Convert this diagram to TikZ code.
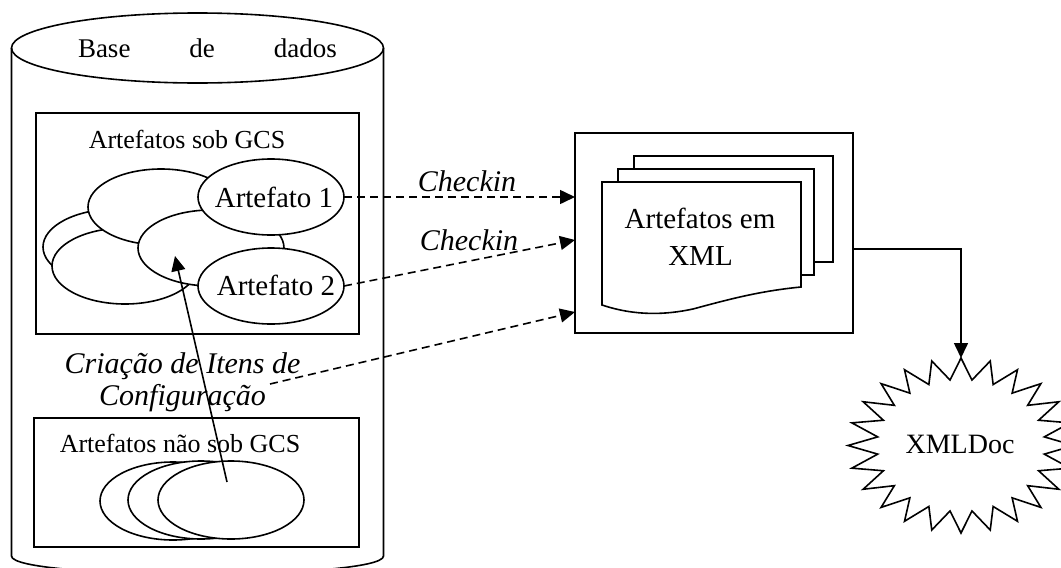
\documentclass[tikz,border=0pt]{standalone}
\usepackage{fontspec}
\setmainfont{Liberation Serif}
\usetikzlibrary{shapes.geometric,arrows.meta,calc}
\begin{document}
\begin{tikzpicture}[x=1pt,y=-1pt,line width=1.6pt,
  every node/.style={inner sep=0pt,outer sep=0pt},
  oval/.style={ellipse,draw,fill=white,minimum width=146pt,minimum height=76pt},
  frame/.style={draw,rectangle,fill=white},
  page/.style={draw,fill=white},
  tip/.style={-{Triangle[length=15pt,width=14pt]}},
  dasharrow/.style={tip,dash pattern=on 8pt off 5pt},
  txt/.style={font=\fontsize{26}{30}\selectfont},
  bigtxt/.style={font=\fontsize{29}{34}\selectfont},
  ittxt/.style={font=\fontsize{30}{34}\selectfont\itshape}]
\useasboundingbox (0,0) rectangle (1061,568);
\clip (0,0) rectangle (1061,568);
\fill[white] (0,0) rectangle (1061,568);

% cylinder
\draw (11.5,48) -- (11.5,556) .. controls (11.5,580) and (383.5,580) .. (383.5,556) -- (383.5,48);
\draw (197.5,48) ellipse [x radius=186, y radius=35];
\node[font=\fontsize{27}{32}\selectfont] (base) at (207.5,48) {\makebox[259pt][s]{Base de dados}};

% box of artefacts under GCS
\node[frame,minimum width=323pt,minimum height=221pt] (gcs) at (197.5,223.5) {};
\node[txt,anchor=base] (gcslabel) at (187,148) {Artefatos sob GCS};
\node[oval] (b1) at (116,247) {};
\node[oval] (b2) at (125,266) {};
\node[oval] (a) at (161,207) {};
\node[oval] (c) at (211,248) {};
\node[oval] (art1) at (271,197) {};
\node[oval] (art2) at (271,286) {};
\node[bigtxt,anchor=base] (art1t) at (274,207) {Artefato 1};
\node[bigtxt,anchor=base] (art2t) at (276,295.5) {Artefato 2};

% box of artefacts not under GCS
\node[frame,minimum width=325pt,minimum height=129pt] (ngcs) at (196.5,482.5) {};
\node[txt,anchor=base] (ngcslabel) at (180,452) {Artefatos não sob GCS};
\node[ellipse,draw,fill=white,minimum width=146pt,minimum height=78pt] (e1) at (173,501) {};
\node[ellipse,draw,fill=white,minimum width=146pt,minimum height=78pt] (e2) at (201,500) {};
\node[ellipse,draw,fill=white,minimum width=146pt,minimum height=78pt] (e3) at (231,500) {};

% creation label
\node[ittxt,anchor=base] (crea1) at (182.5,373) {Criação de Itens de};
\node[ittxt,anchor=base] (crea2) at (182.5,405) {Configuração};

% XML box
\node[frame,minimum width=278pt,minimum height=200pt] (xmlbox) at (714,233) {};
\draw[page] (634,156) rectangle (833,262);
\draw[page] (618,169) rectangle (814,275);
\draw[page] (602,305) -- (602,182) -- (801,182) -- (801,287)
  .. controls (760,291) and (730,299) .. (693,309)
  .. controls (665,315) and (635,316) .. (602,305) -- cycle;
\node[bigtxt,anchor=base] (xml1) at (700,228) {Artefatos em};
\node[bigtxt,anchor=base] (xml2) at (700.5,265) {XML};

% star
\draw[fill=white] (961,358) \foreach \k in {0,...,23}{
   -- ({961+113*cos(90+15*\k)},{445.5-87.5*sin(90+15*\k)})
   -- ({961+84*cos(97.5+15*\k)},{445.5-66*sin(97.5+15*\k)}) } -- cycle;
\coordinate (startop) at (961,358);
\node[font=\fontsize{28}{32}\selectfont,anchor=base] (xmldoc) at (960,453) {XMLDoc};

% connectors
\coordinate (in1) at (art1.east -| xmlbox.west);
\coordinate (in2) at (575,240);
\coordinate (in3) at (575,312);
\coordinate (crsrc) at (270,384);
\coordinate (out1) at (853,249);
\draw[dasharrow] (art1.east) -- (in1);
\draw[dasharrow] (art2.east) -- (in2);
\draw[dasharrow] (crsrc) -- (in3);
\node[ittxt,anchor=base] (chk1) at (467,191) {Checkin};
\node[ittxt,anchor=base] (chk2) at (469,250) {Checkin};
\draw[tip] (out1) -| (startop);
\coordinate (upsrc) at (227,482);
\coordinate (updst) at (175,256);
\draw[tip] (upsrc) -- (updst);
\end{tikzpicture}
\end{document}
